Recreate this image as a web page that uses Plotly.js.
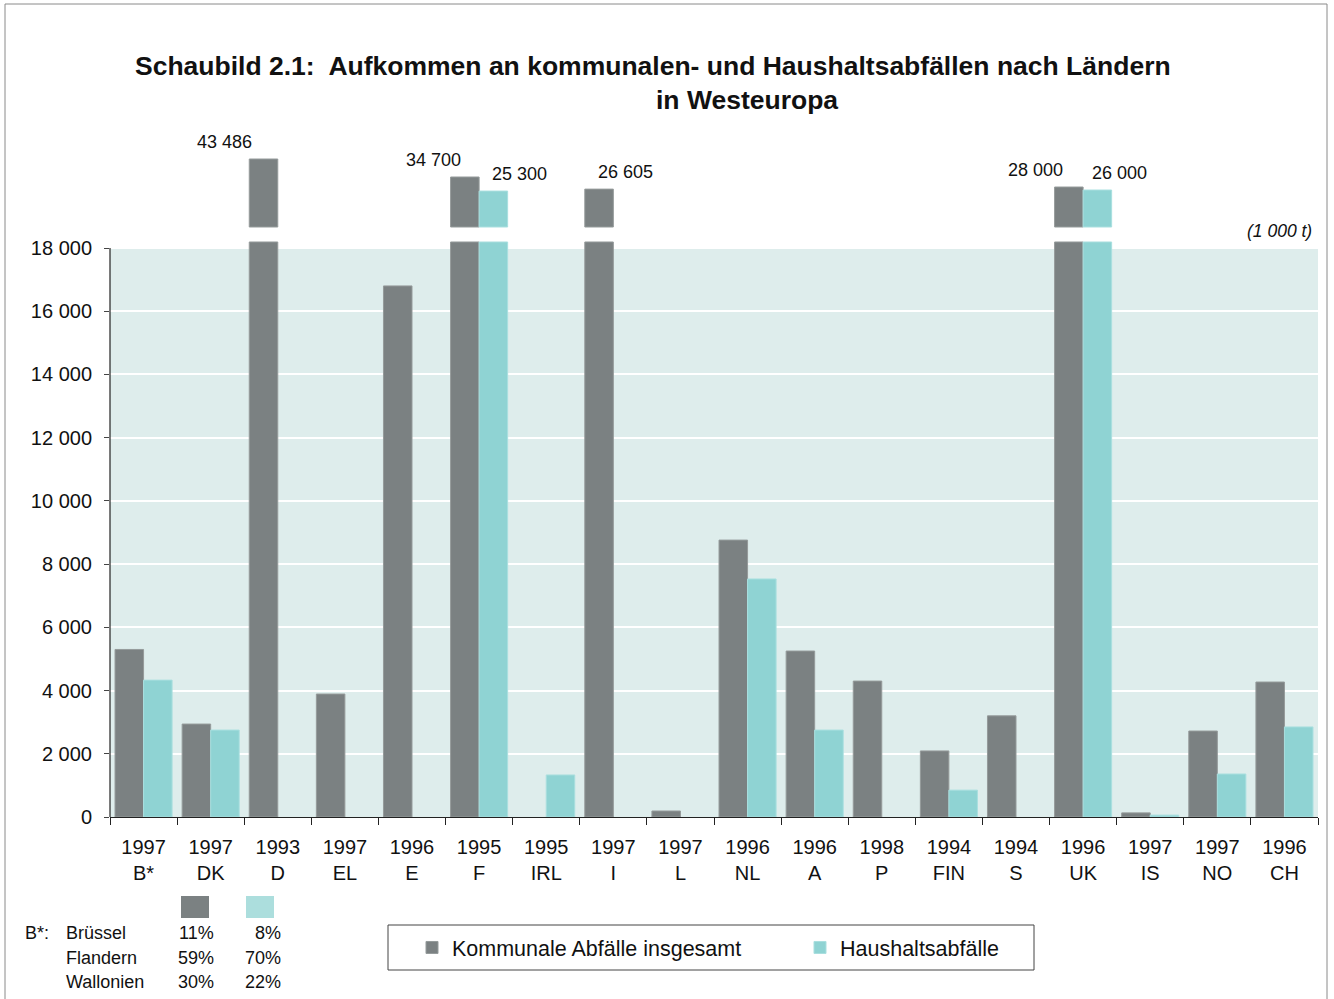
<!DOCTYPE html>
<html>
<head>
<meta charset="utf-8">
<script src="https://cdn.plot.ly/plotly-3.0.1.min.js"></script>
<style>html,body{margin:0;padding:0;background:#fff;}#chart{width:1334px;height:999px;}</style>
</head>
<body>
<div id="chart"></div>
<script>
// ---- data ----
const countries = ['B*','DK','D','EL','E','F','IRL','I','L','NL','A','P','FIN','S','UK','IS','NO','CH'];
const years = ['1997','1997','1993','1997','1996','1995','1995','1997','1997','1996','1996','1998','1994','1994','1996','1997','1997','1996'];
const kommunal = [5300,2940,43486,3890,16800,34700,null,26605,190,8760,5250,4300,2090,3200,28000,130,2720,4270];
const haushalt = [4330,2750,null,null,null,25300,1330,null,null,7530,2750,null,850,null,26000,60,1360,2850];
const yTicks = [0,2000,4000,6000,8000,10000,12000,14000,16000,18000];
const belgiumRegions = ['Brüssel','Flandern','Wallonien'];
const belgiumKommunalShare = ['11%','59%','30%'];
const belgiumHaushaltShare = ['8%','70%','22%'];
const seriesNames = ['Kommunale Abfälle insgesamt','Haushaltsabfälle'];

// ---- layout helpers ----
const W = 1334, H = 999;
const L = 110, R = 16, T = 130, B = 182;
const pw = W - L - R, ph = H - T - B;
const px = x => (x - L) / pw;
const py = y => (H - B - y) / ph;
const yMax = 18000 * ph / 569;             // axis scale: 18000 spans 569 px
const unitPerPx = 18000 / 569;
const clipTop = 18190;                     // main bar cut-off (axis break)
const segBase = 18664;                     // start of upper (broken) segment
// compressed scale above the axis break: value -> segment height (px), piecewise linear
const breakScale = [[25000, 35.5], [34700, 50], [43486, 68]];
function segHeight(v) {
  let a = breakScale[0], b = breakScale[1];
  if (v > breakScale[1][0]) { a = breakScale[1]; b = breakScale[2]; }
  const hpx = a[1] + (v - a[0]) * (b[1] - a[1]) / (b[0] - a[0]);
  return hpx * unitPerPx;
}

const COL_K = '#7b8182', COL_H = '#8fd3d3';
const FONT = 'Liberation Sans, Arial, sans-serif';

const cats = countries.map((c, i) => years[i] + '<br>' + c);
const clip = a => a.map(v => v == null ? null : Math.min(v, clipTop));
const segs = a => a.map(v => (v != null && v > 18000) ? segHeight(v) : null);

const traces = [
  {type:'bar', name:seriesNames[0], x:cats, y:clip(kommunal), offsetgroup:'k',
   marker:{color:COL_K, line:{color:'#959b9b', width:1}}, hoverinfo:'x+y', showlegend:true},
  {type:'bar', name:seriesNames[1], x:cats, y:clip(haushalt), offsetgroup:'h',
   marker:{color:COL_H, line:{color:'#a9dfdf', width:1}}, hoverinfo:'x+y', showlegend:true},
  {type:'bar', name:seriesNames[0], x:cats, y:segs(kommunal), base:segBase, offsetgroup:'k',
   marker:{color:COL_K, line:{color:'#959b9b', width:1}}, hoverinfo:'skip', showlegend:false},
  {type:'bar', name:seriesNames[1], x:cats, y:segs(haushalt), base:segBase, offsetgroup:'h',
   marker:{color:COL_H, line:{color:'#a9dfdf', width:1}}, hoverinfo:'skip', showlegend:false}
];

const fmt = v => String(v).replace(/\B(?=(\d{3})+(?!\d))/g, ' ');
// horizontal label offsets (px from category centre) for broken bars
const labelShiftK = {'D':-53,'F':-46,'I':12,'UK':-48};
const labelShiftH = {'F':40,'UK':36};

const annotations = [];
countries.forEach((c, i) => {
  const k = kommunal[i], h = haushalt[i];
  if (k != null && k > 18000) annotations.push({x:cats[i], y:segBase + segHeight(k), xref:'x', yref:'y',
    text:fmt(k), showarrow:false, yanchor:'bottom', yshift:5, xshift:labelShiftK[c] || 0,
    font:{family:FONT, size:18, color:'#111'}});
  if (h != null && h > 18000) annotations.push({x:cats[i], y:segBase + segHeight(h), xref:'x', yref:'y',
    text:fmt(h), showarrow:false, yanchor:'bottom', yshift:5, xshift:labelShiftH[c] || 0,
    font:{family:FONT, size:18, color:'#111'}});
});

// title
annotations.push({xref:'paper', yref:'paper', x:px(653), y:py(66), text:'<b>Schaubild 2.1:  Aufkommen an kommunalen- und Haushaltsabfällen nach Ländern</b>',
  showarrow:false, xanchor:'center', yanchor:'middle', font:{family:FONT, size:26.5, color:'#111'}});
annotations.push({xref:'paper', yref:'paper', x:px(747), y:py(100), text:'<b>in Westeuropa</b>',
  showarrow:false, xanchor:'center', yanchor:'middle', font:{family:FONT, size:26.5, color:'#111'}});
// unit
annotations.push({xref:'paper', yref:'paper', x:px(1314), y:py(231), text:'<i>(1 000 t)</i>',
  showarrow:false, xanchor:'right', yanchor:'middle', font:{family:FONT, size:17.5, color:'#111'}});

// Belgium table
const rowsY = [933, 958, 982];
annotations.push({xref:'paper', yref:'paper', x:px(23), y:py(rowsY[0]), text:'B*:', showarrow:false,
  xanchor:'left', yanchor:'middle', font:{family:FONT, size:18, color:'#111'}});
belgiumRegions.forEach((r, i) => {
  annotations.push({xref:'paper', yref:'paper', x:px(64), y:py(rowsY[i]), text:r, showarrow:false,
    xanchor:'left', yanchor:'middle', font:{family:FONT, size:18, color:'#111'}});
  annotations.push({xref:'paper', yref:'paper', x:px(216), y:py(rowsY[i]), text:belgiumKommunalShare[i], showarrow:false,
    xanchor:'right', yanchor:'middle', font:{family:FONT, size:18, color:'#111'}});
  annotations.push({xref:'paper', yref:'paper', x:px(283), y:py(rowsY[i]), text:belgiumHaushaltShare[i], showarrow:false,
    xanchor:'right', yanchor:'middle', font:{family:FONT, size:18, color:'#111'}});
});

const shapes = [
  // outer frame
  {type:'rect', xref:'paper', yref:'paper', x0:px(5), x1:px(1327), y0:py(1010), y1:py(4),
   line:{color:'#8a8a8a', width:1}, fillcolor:'rgba(0,0,0,0)', layer:'below'},
  // plot background (only up to 18000)
  {type:'rect', xref:'paper', yref:'y', x0:0, x1:1, y0:0, y1:18000,
   line:{width:0}, fillcolor:'#deedec', layer:'below'},
  // y axis line
  {type:'line', xref:'paper', yref:'y', x0:0, x1:0, y0:0, y1:18000,
   line:{color:'#222', width:1.2}, layer:'above'},
  // table swatches
  {type:'rect', xref:'paper', yref:'paper', x0:px(181), x1:px(209), y0:py(918), y1:py(896),
   line:{width:0}, fillcolor:COL_K},
  {type:'rect', xref:'paper', yref:'paper', x0:px(246), x1:px(274), y0:py(918), y1:py(896),
   line:{width:0}, fillcolor:'#acdedd'},
  // legend frame
  {type:'rect', xref:'paper', yref:'paper', x0:px(388), x1:px(1034), y0:py(970), y1:py(925),
   line:{color:'#444', width:1}, fillcolor:'rgba(0,0,0,0)'}
];

const layout = {
  width:W, height:H,
  margin:{l:L, r:R, t:T, b:B, pad:0},
  paper_bgcolor:'#ffffff', plot_bgcolor:'rgba(0,0,0,0)',
  separators:', ',
  font:{family:FONT, size:20, color:'#111'},
  barmode:'group', bargap:0.15, bargroupgap:0,
  showlegend:true,
  legend:{orientation:'h', x:px(412), y:py(927), xanchor:'left', yanchor:'top',
    bgcolor:'rgba(0,0,0,0)', borderwidth:0, font:{family:FONT, size:21.5, color:'#111'},
    entrywidth:343, entrywidthmode:'pixels', itemclick:false, itemdoubleclick:false},
  xaxis:{type:'category', tickson:'boundaries', ticks:'outside', ticklen:7, tickcolor:'#222', tickwidth:1.2,
    showline:true, linecolor:'#222', linewidth:1.2, showgrid:false, zeroline:false,
    ticklabelstandoff:12,
    tickfont:{family:FONT, size:20, color:'#111'}, fixedrange:true},
  yaxis:{range:[0, yMax], tickvals:yTicks, tickformat:',d', ticks:'outside', ticklen:5, tickcolor:'#444',
    showline:false, showgrid:true, gridcolor:'#ffffff', gridwidth:2, zeroline:false,
    ticklabelstandoff:8, tickfont:{family:FONT, size:20, color:'#111'}, fixedrange:true},
  annotations:annotations,
  shapes:shapes
};

Plotly.newPlot('chart', traces, layout, {displayModeBar:false, staticPlot:false});
</script>
</body>
</html>
